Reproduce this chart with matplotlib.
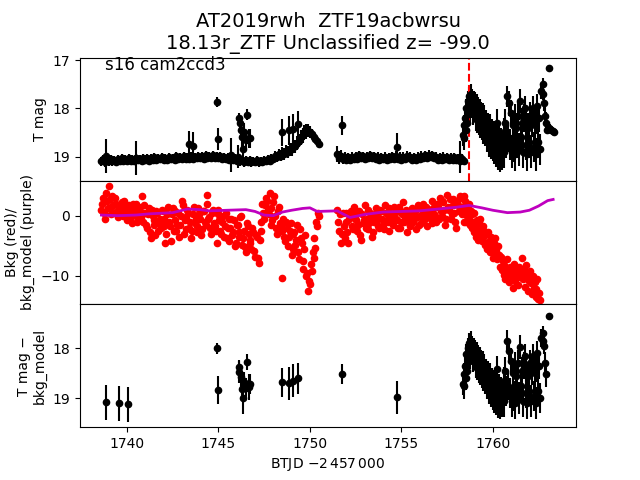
import matplotlib
matplotlib.use('Agg')
import matplotlib.pyplot as plt

# --- top panel: dense quiescent light curve (T mag) ---
t_seg1 = [1738.6, 1738.7, 1738.8, 1738.9, 1739.0,
          1739.1, 1739.2, 1739.3, 1739.4, 1739.5, 1739.6, 1739.7, 1739.8, 1739.9, 1740.0,
          1740.1, 1740.2, 1740.3, 1740.4, 1740.5, 1740.6, 1740.7, 1740.8, 1740.9, 1741.0,
          1741.1, 1741.2, 1741.3, 1741.4, 1741.5, 1741.6, 1741.7, 1741.8, 1741.9, 1742.0,
          1742.1, 1742.2, 1742.3, 1742.4, 1742.5, 1742.6, 1742.7, 1742.8, 1742.9, 1743.0,
          1743.1, 1743.2, 1743.3, 1743.4, 1743.5, 1743.6, 1743.7, 1743.8, 1743.9, 1744.0,
          1744.1, 1744.2, 1744.3, 1744.4, 1744.5, 1744.6, 1744.7, 1744.8, 1744.9, 1745.0,
          1745.1, 1745.2, 1745.3, 1745.4, 1745.5, 1745.6, 1745.7, 1745.8, 1745.9, 1746.0,
          1746.1, 1746.2, 1746.3, 1746.4, 1746.5, 1746.6, 1746.7, 1746.8, 1746.9, 1747.0,
          1747.1, 1747.2, 1747.3, 1747.4, 1747.5, 1747.6, 1747.7, 1747.8, 1747.9, 1748.0,
          1748.1, 1748.2, 1748.3, 1748.4, 1748.5, 1748.6, 1748.7, 1748.8, 1748.9, 1749.0,
          1749.1, 1749.2, 1749.3, 1749.4, 1749.5, 1749.6, 1749.7, 1749.8, 1749.9, 1750.0,
          1750.1, 1750.2, 1750.3, 1750.4, 1750.5]
mag_seg1 = [19.10, 19.05, 19.12, 19.06, 19.10,
            19.04, 19.10, 19.06, 19.11, 19.05, 19.08, 19.03, 19.09, 19.05, 19.08,
            19.03, 19.09, 19.05, 19.08, 19.02, 19.07, 19.04, 19.08, 19.03, 19.06,
            19.02, 19.08, 19.03, 19.06, 19.01, 19.07, 19.03, 19.05, 19.00, 19.06,
            19.02, 19.06, 19.00, 19.05, 19.02, 19.06, 18.99, 19.04, 19.01, 19.05,
            18.99, 19.05, 19.01, 19.04, 18.98, 19.04, 19.00, 19.03, 18.98, 19.03,
            18.99, 19.04, 18.97, 19.03, 18.99, 19.02, 18.97, 19.03, 18.98, 19.02,
            18.98, 19.04, 19.00, 19.05, 19.01, 19.06, 19.02, 19.07, 19.03, 19.08,
            19.05, 19.10, 19.06, 19.12, 19.07, 19.11, 19.06, 19.12, 19.08, 19.11,
            19.07, 19.12, 19.08, 19.11, 19.06, 19.09, 19.04, 19.08, 19.02, 19.05,
            18.98, 19.01, 18.95, 18.98, 18.92, 18.94, 18.88, 18.91, 18.85, 18.85,
            18.80, 18.79, 18.72, 18.67, 18.60, 18.56, 18.50, 18.48, 18.46, 18.49,
            18.53, 18.59, 18.63, 18.68, 18.73]
err_seg1 = [0.09, 0.08, 0.09, 0.08, 0.09,
            0.08, 0.09, 0.08, 0.09, 0.08, 0.09, 0.08, 0.09, 0.08, 0.09,
            0.08, 0.09, 0.08, 0.09, 0.08, 0.09, 0.08, 0.09, 0.08, 0.09,
            0.08, 0.09, 0.08, 0.09, 0.08, 0.09, 0.08, 0.09, 0.08, 0.09,
            0.08, 0.09, 0.08, 0.09, 0.08, 0.09, 0.08, 0.09, 0.08, 0.09,
            0.08, 0.09, 0.08, 0.09, 0.08, 0.09, 0.08, 0.09, 0.08, 0.09,
            0.08, 0.09, 0.08, 0.09, 0.08, 0.09, 0.08, 0.09, 0.08, 0.09,
            0.08, 0.09, 0.08, 0.09, 0.08, 0.09, 0.08, 0.09, 0.08, 0.09,
            0.08, 0.09, 0.08, 0.09, 0.08, 0.09, 0.08, 0.09, 0.08, 0.09,
            0.08, 0.09, 0.08, 0.09, 0.08, 0.09, 0.08, 0.09, 0.08, 0.09,
            0.09, 0.10, 0.10, 0.11, 0.11, 0.12, 0.12, 0.12, 0.13, 0.13,
            0.13, 0.14, 0.14, 0.14, 0.15, 0.15, 0.15, 0.15, 0.14, 0.13,
            0.11, 0.09, 0.07, 0.05, 0.03]

t_seg2 = [1751.5, 1751.6, 1751.7, 1751.8, 1751.9, 1752.0, 1752.1, 1752.2, 1752.3, 1752.4,
          1752.5, 1752.6, 1752.7, 1752.8, 1752.9, 1753.0, 1753.1, 1753.2, 1753.3, 1753.4,
          1753.5, 1753.6, 1753.7, 1753.8, 1753.9, 1754.0, 1754.1, 1754.2, 1754.3, 1754.4,
          1754.5, 1754.6, 1754.7, 1754.8, 1754.9, 1755.0, 1755.1, 1755.2, 1755.3, 1755.4,
          1755.5, 1755.6, 1755.7, 1755.8, 1755.9, 1756.0, 1756.1, 1756.2, 1756.3, 1756.4,
          1756.5, 1756.6, 1756.7, 1756.8, 1756.9, 1757.0, 1757.1, 1757.2, 1757.3, 1757.4,
          1757.5, 1757.6, 1757.7, 1757.8, 1757.9, 1758.0, 1758.1, 1758.2, 1758.3, 1758.4]
mag_seg2 = [18.95, 19.02, 18.98, 19.05, 19.00, 19.06, 19.01, 19.06, 19.00, 19.05,
            18.99, 19.04, 18.97, 19.03, 18.99, 19.05, 19.00, 19.03, 18.97, 19.02,
            18.99, 19.05, 19.00, 19.06, 19.01, 19.05, 19.00, 19.07, 19.01, 19.05,
            18.99, 19.04, 18.98, 19.04, 19.00, 19.06, 19.00, 19.04, 18.98, 19.03,
            19.00, 19.06, 19.01, 19.06, 19.00, 19.04, 18.98, 19.02, 18.97, 19.02,
            18.96, 19.01, 18.97, 19.03, 19.00, 19.06, 19.01, 19.06, 19.00, 19.05,
            19.01, 19.07, 19.02, 19.06, 19.01, 19.07, 19.03, 19.08, 19.04, 19.08]
err_seg2 = [0.16, 0.14, 0.12, 0.10, 0.09, 0.08, 0.09, 0.08, 0.09, 0.08,
            0.09, 0.08, 0.09, 0.08, 0.09, 0.08, 0.09, 0.08, 0.09, 0.08,
            0.09, 0.08, 0.09, 0.08, 0.09, 0.08, 0.09, 0.08, 0.09, 0.08,
            0.09, 0.08, 0.09, 0.08, 0.09, 0.08, 0.09, 0.08, 0.09, 0.08,
            0.09, 0.08, 0.09, 0.08, 0.09, 0.08, 0.09, 0.08, 0.09, 0.08,
            0.09, 0.08, 0.09, 0.08, 0.09, 0.08, 0.09, 0.08, 0.09, 0.08,
            0.09, 0.08, 0.09, 0.08, 0.09, 0.08, 0.09, 0.08, 0.09, 0.08]

t_seg3 = [1762.98, 1763.05, 1763.12, 1763.20, 1763.28, 1763.35]
mag_seg3 = [18.45, 18.40, 18.42, 18.45, 18.47, 18.49]
err_seg3 = [0.06, 0.12, 0.10, 0.07, 0.04, 0.02]

# scattered points with large errors (top panel)
t_scat = [1738.85, 1740.49, 1743.40, 1743.60, 1744.90, 1745.00, 1745.70, 1746.07,
          1746.12, 1746.18, 1746.25, 1746.30, 1746.35, 1746.42, 1746.50, 1746.58,
          1746.65, 1746.72, 1748.50, 1748.85, 1749.05, 1749.35, 1751.75, 1754.75, 1758.20]
mag_scat = [18.98, 19.02, 18.73, 18.78, 17.87, 18.63, 18.96, 19.00,
            18.21, 18.30, 18.45, 18.60, 18.85, 18.50, 18.65, 18.13,
            18.62, 18.62, 18.50, 18.45, 18.42, 18.33, 18.35, 18.80, 19.00]
err_scat = [0.35, 0.35, 0.27, 0.28, 0.10, 0.23, 0.35, 0.24,
            0.12, 0.15, 0.20, 0.20, 0.25, 0.20, 0.20, 0.12,
            0.20, 0.20, 0.28, 0.30, 0.30, 0.28, 0.20, 0.28, 0.33]

# outburst (top and bottom panels share the times)
t_burst = [1758.36, 1758.40, 1758.44, 1758.48, 1758.52, 1758.56, 1758.60,
           1758.64, 1758.68, 1758.72, 1758.76, 1758.80, 1758.84, 1758.88, 1758.92, 1758.96, 1759.00,
           1759.04, 1759.08, 1759.12, 1759.16, 1759.20, 1759.24, 1759.28, 1759.32, 1759.36, 1759.40,
           1759.44, 1759.49, 1759.54, 1759.59, 1759.64, 1759.69, 1759.74, 1759.79, 1759.84, 1759.89,
           1759.94, 1759.99, 1760.04, 1760.09, 1760.14, 1760.19, 1760.24, 1760.29, 1760.34, 1760.39,
           1760.44, 1760.49,
           1760.54, 1760.59, 1760.64, 1760.69, 1760.74, 1760.79, 1760.84, 1760.89, 1760.94, 1760.99,
           1761.04, 1761.09, 1761.14, 1761.19, 1761.24, 1761.29, 1761.34, 1761.39, 1761.44, 1761.49,
           1761.54, 1761.59, 1761.64, 1761.69, 1761.74, 1761.79, 1761.84, 1761.89, 1761.94, 1761.99,
           1762.04, 1762.09, 1762.14, 1762.19, 1762.24, 1762.29, 1762.34, 1762.39, 1762.44, 1762.49,
           1762.54, 1762.59,
           1762.66, 1762.72, 1762.76, 1762.80, 1762.86, 1762.92, 1763.06]
mag_burst = [18.55, 18.35, 18.62, 18.20, 18.45, 18.00, 18.30,
             17.85, 18.10, 17.75, 18.05, 17.70, 17.95, 17.80, 18.10, 17.85, 18.05,
             17.90, 18.20, 17.95, 18.25, 18.00, 18.30, 18.05, 18.35, 18.10, 18.40,
             18.15, 18.45, 18.20, 18.50, 18.30, 18.60, 18.35, 18.70, 18.40, 18.75,
             18.50, 18.80, 18.55, 18.85, 18.60, 18.90, 18.30, 18.95, 18.65, 19.00,
             18.70, 18.95,
             18.85, 18.50, 18.90, 18.30, 18.70, 17.75, 18.60, 17.90, 18.75, 18.10,
             18.90, 18.35, 18.80, 18.20, 18.95, 18.40, 18.70, 18.15, 18.85, 17.85,
             18.60, 18.30, 18.90, 18.20, 18.00, 18.75, 18.25, 18.95, 18.40, 18.70,
             18.15, 18.90, 18.30, 18.00, 18.80, 18.35, 18.95, 18.25, 17.95, 18.70,
             18.20, 18.85,
             17.65, 17.50, 17.70, 17.90, 18.15, 18.30, 17.17]
err_burst = [0.22, 0.22, 0.25, 0.22, 0.25, 0.20, 0.22,
             0.20, 0.24, 0.20, 0.24, 0.20, 0.24, 0.20, 0.24, 0.20, 0.24,
             0.24, 0.26, 0.24, 0.26, 0.24, 0.26, 0.24, 0.26, 0.24, 0.26,
             0.26, 0.28, 0.26, 0.28, 0.26, 0.30, 0.26, 0.30, 0.28, 0.30,
             0.28, 0.30, 0.29, 0.31, 0.29, 0.31, 0.28, 0.32, 0.30, 0.32,
             0.30, 0.32,
             0.32, 0.30, 0.34, 0.29, 0.32, 0.22, 0.31, 0.25, 0.32, 0.28,
             0.34, 0.30, 0.32, 0.29, 0.34, 0.30, 0.32, 0.28, 0.34, 0.24,
             0.32, 0.30, 0.34, 0.29, 0.25, 0.32, 0.29, 0.34, 0.30, 0.32,
             0.28, 0.34, 0.30, 0.25, 0.32, 0.30, 0.34, 0.29, 0.25, 0.32,
             0.29, 0.32,
             0.15, 0.12, 0.12, 0.15, 0.20, 0.22, 0.06]

# bottom panel: T mag - bkg_model
t_low = [1738.85, 1739.56, 1740.05, 1744.90, 1745.00, 1746.12, 1746.14, 1746.23,
         1746.28, 1746.32, 1746.40, 1746.50, 1746.58, 1746.65, 1746.72,
         1748.50, 1748.85, 1749.05, 1749.35, 1751.75, 1754.75]
mag_low = [19.08, 19.10, 19.12, 18.00, 18.84, 18.38, 18.48, 18.58,
           18.82, 19.00, 18.68, 18.80, 18.28, 18.78, 18.72,
           18.68, 18.70, 18.65, 18.60, 18.52, 18.98]
err_low = [0.35, 0.35, 0.35, 0.11, 0.28, 0.15, 0.22, 0.20,
           0.20, 0.32, 0.20, 0.20, 0.16, 0.26, 0.20,
           0.29, 0.33, 0.33, 0.31, 0.20, 0.33]
mag_burst_low = [18.72, 18.52, 18.76, 18.36, 18.60, 18.12, 18.45,
                 18.00, 18.25, 17.90, 18.20, 17.85, 18.10, 17.95, 18.25, 18.00, 18.20,
                 18.05, 18.35, 18.10, 18.40, 18.15, 18.45, 18.20, 18.50, 18.25, 18.55,
                 18.30, 18.60, 18.35, 18.65, 18.45, 18.75, 18.50, 18.85, 18.55, 18.90,
                 18.65, 18.95, 18.70, 19.00, 18.75, 19.05, 18.42, 19.10, 18.80, 19.12,
                 18.85, 19.08,
                 19.00, 18.65, 19.05, 18.45, 18.85, 17.85, 18.75, 18.05, 18.90, 18.25,
                 19.05, 18.50, 18.95, 18.35, 19.10, 18.55, 18.85, 18.30, 19.00, 17.98,
                 18.75, 18.45, 19.05, 18.35, 18.15, 18.90, 18.40, 19.10, 18.55, 18.85,
                 18.30, 19.05, 18.45, 18.15, 18.95, 18.50, 19.10, 18.40, 18.10, 18.85,
                 18.35, 19.00,
                 17.80, 17.70, 17.85, 17.96, 18.30, 18.52, 17.36]
err_burst_low = [0.22, 0.22, 0.25, 0.20, 0.24, 0.20, 0.22,
                 0.20, 0.22, 0.20, 0.22, 0.20, 0.22, 0.20, 0.22, 0.20, 0.22,
                 0.22, 0.24, 0.22, 0.24, 0.22, 0.24, 0.22, 0.24, 0.22, 0.24,
                 0.24, 0.26, 0.24, 0.26, 0.24, 0.27, 0.24, 0.27, 0.26, 0.28,
                 0.26, 0.28, 0.27, 0.29, 0.27, 0.29, 0.26, 0.30, 0.28, 0.30,
                 0.28, 0.30,
                 0.30, 0.28, 0.32, 0.27, 0.30, 0.22, 0.29, 0.24, 0.30, 0.26,
                 0.32, 0.28, 0.30, 0.27, 0.32, 0.28, 0.30, 0.26, 0.32, 0.24,
                 0.30, 0.28, 0.32, 0.27, 0.24, 0.30, 0.27, 0.32, 0.28, 0.30,
                 0.26, 0.32, 0.28, 0.24, 0.30, 0.28, 0.32, 0.27, 0.24, 0.30,
                 0.27, 0.30,
                 0.18, 0.14, 0.14, 0.16, 0.22, 0.25, 0.07]

# --- middle panel: background (red) and background model (purple) ---
bkg_seg1 = [1.0, 3.0, -0.5, 2.5, 5.0,
            1.5, 3.2, 0.5, 2.0, -0.3, 1.2, 2.2, 0.0, 1.5, -0.8,
            1.8, 0.3, -1.2, 1.0, 2.0, -0.5, 0.8, 3.2, -1.0, 0.5,
            -2.0, 1.2, -3.8, 0.0, -1.5, 0.8, -2.5, -0.5, 1.0, -1.8,
            -4.5, 0.2, -1.0, -4.2, 1.2, -0.8, -2.5, 0.5, -1.5, 2.5,
            -3.0, -0.3, 1.0, -2.0, -3.8, 0.3, -1.2, -2.8, 1.2, -0.5,
            -2.2, 0.8, -1.5, 3.5, -0.2, -3.0, 1.0, -1.8, -4.5, 0.2,
            -2.5, -1.0, -3.5, 0.5, -2.0, -4.2, -0.5, -2.8, -5.0, -1.5,
            -3.5, -0.2, -4.8, -2.5, -6.0, -1.8, -4.0, -5.5, -2.8, -6.8,
            -3.5, -7.8, -1.0, 2.0, -0.5, 3.0, 1.0, 3.7, -1.5, 2.2,
            0.0, -3.0, 1.5, -1.8, -10.3, -3.5, -1.0, -5.0, -2.5, -6.5,
            -3.0, -4.8, -1.5, -7.2, -3.8, -8.8, -5.5, -10.0, -12.5, -11.3,
            -9.2, -7.0, -5.3, -1.7, 0.0]
bkg_seg2 = [1.0, -2.5, -4.5, 0.5, -3.8, -1.0, -4.5, 0.2, -1.8, 1.5,
            -0.8, -2.5, 0.8, -4.0, -1.2, 1.8, -0.5, -2.2, 0.5, -3.5,
            -1.0, 1.2, -0.3, -2.0, 0.8, -1.5, 1.8, -0.8, -2.5, 0.3,
            -1.2, 1.5, -0.5, -2.0, 0.8, -1.0, 2.2, -0.3, -2.8, 0.5,
            -1.5, 1.2, -0.5, -2.2, 1.8, 0.0, -1.2, 2.0, 0.5, -1.8,
            1.0, -0.5, 2.5, 0.2, -1.0, 1.5, 3.0, 0.0, 2.2, -1.5,
            3.5, 1.0, -0.5, 2.8, 0.5, -2.0, 1.8, 3.2, 0.2, -1.0]
bkg_burst = [1.5, 3.2, 0.5, 2.5, -1.0, 1.8, 0.0,
             1.2, -0.5, 2.0, -1.5, 0.8, -2.0, 0.3, -1.0, -2.8, 0.5,
             -1.8, -3.5, -0.8, -2.2, -4.0, -1.2, -3.0, -0.5, -2.5, -4.2,
             -1.8, -3.5, -2.5, -4.8, -3.0, -5.5, -2.8, -4.2, -6.0, -3.5,
             -5.0, -7.0, -4.5, -6.2, -3.8, -5.8, -7.2, -5.0, -6.5, -8.5,
             -6.8, -9.0,
             -7.5, -9.8, -8.2, -10.5, -8.8, -7.2, -9.5, -11.0, -8.5, -10.0,
             -9.0, -12.0, -8.0, -9.8, -10.8, -8.8, -9.2, -11.5, -8.5, -10.2,
             -9.5, -7.0, -10.5, -9.0, -11.8, -8.2, -10.0, -9.5, -12.5, -10.8,
             -9.2, -11.2, -13.0, -10.0, -12.0, -11.0, -13.5, -12.2, -10.5, -13.8,
             -12.8, -14.0]

# in-between cadences (background only)
t_seg1b = [1738.65, 1738.75, 1738.85, 1738.95, 1739.05, 1739.15, 1739.25, 1739.35, 1739.45, 1739.55,
           1739.65, 1739.75, 1739.85, 1739.95, 1740.05, 1740.15, 1740.25, 1740.35, 1740.45, 1740.55,
           1740.65, 1740.75, 1740.85, 1740.95, 1741.05, 1741.15, 1741.25, 1741.35, 1741.45, 1741.55,
           1741.65, 1741.75, 1741.85, 1741.95, 1742.05, 1742.15, 1742.25, 1742.35, 1742.45, 1742.55,
           1742.65, 1742.75, 1742.85, 1742.95, 1743.05, 1743.15, 1743.25, 1743.35, 1743.45, 1743.55,
           1743.65, 1743.75, 1743.85, 1743.95, 1744.05, 1744.15, 1744.25, 1744.35, 1744.45, 1744.55,
           1744.65, 1744.75, 1744.85, 1744.95, 1745.05, 1745.15, 1745.25, 1745.35, 1745.45, 1745.55,
           1745.65, 1745.75, 1745.85, 1745.95, 1746.05, 1746.15, 1746.25, 1746.35, 1746.45, 1746.55,
           1746.65, 1746.75, 1746.85, 1746.95, 1747.05, 1747.15, 1747.25, 1747.35, 1747.45, 1747.55,
           1747.65, 1747.75, 1747.85, 1747.95, 1748.05, 1748.15, 1748.25, 1748.35, 1748.45, 1748.55,
           1748.65, 1748.75, 1748.85, 1748.95, 1749.05, 1749.15, 1749.25, 1749.35, 1749.45, 1749.55,
           1749.65, 1749.75, 1749.85, 1749.95, 1750.05, 1750.15, 1750.25, 1750.35, 1750.45]
bkg_seg1b = [2.0, 0.5, 3.8, 1.2, 2.8, 0.2, 1.8, 3.0, 0.8, 1.5,
             0.3, 1.5, 2.5, 0.8, -0.5, 1.2, 0.0, 2.0, 0.5, -1.0,
             1.5, -0.3, 0.5, 1.8, -1.5, 0.2, -2.8, 1.0, -0.8, -3.2,
             0.5, -1.2, -2.0, 0.8, -0.5, -3.0, 1.5, -1.8, 0.2, -2.5,
             0.8, -1.5, -3.5, 0.0, 1.8, -0.8, -2.2, 0.5, -1.0, -2.5,
             1.5, -0.5, -1.8, 0.2, -3.2, 0.8, -1.0, 2.0, -0.5, -2.0,
             0.5, -1.2, -2.5, 1.0, -0.8, -3.0, 0.0, -1.8, -3.8, -0.5,
             -2.0, -3.2, -0.8, -4.5, -1.5, -2.8, 0.0, -3.8, -5.2, -1.2,
             -3.0, -4.5, -2.0, -5.8, -3.2, -7.0, -4.0, -2.5, 0.5, 1.8,
             2.5, 0.2, 1.2, -0.8, 3.2, -2.0, 0.8, -1.2, -2.5, -0.5,
             -4.2, -2.0, -3.5, -1.2, -5.5, -2.8, -4.0, -6.0, -2.2, -4.5,
             -7.5, -3.2, -9.5, -10.8, -8.0, -6.0, -3.8, -1.0, 0.5]
t_seg2b = [1751.55, 1751.65, 1751.75, 1751.85, 1751.95, 1752.05, 1752.15, 1752.25, 1752.35, 1752.45,
           1752.55, 1752.65, 1752.75, 1752.85, 1752.95, 1753.05, 1753.15, 1753.25, 1753.35, 1753.45,
           1753.55, 1753.65, 1753.75, 1753.85, 1753.95, 1754.05, 1754.15, 1754.25, 1754.35, 1754.45,
           1754.55, 1754.65, 1754.75, 1754.85, 1754.95, 1755.05, 1755.15, 1755.25, 1755.35, 1755.45,
           1755.55, 1755.65, 1755.75, 1755.85, 1755.95, 1756.05, 1756.15, 1756.25, 1756.35, 1756.45,
           1756.55, 1756.65, 1756.75, 1756.85, 1756.95, 1757.05, 1757.15, 1757.25, 1757.35, 1757.45,
           1757.55, 1757.65, 1757.75, 1757.85, 1757.95, 1758.05, 1758.15, 1758.25, 1758.35]
bkg_seg2b = [-1.0, 0.2, -3.0, -1.8, 0.5, -2.8, -0.5, 0.8, -2.2, -0.3,
             0.5, -1.5, -3.2, 0.2, -0.8, -2.0, 1.0, -1.2, -0.3, -2.8,
             0.3, -0.8, -1.8, 1.0, -0.5, -2.2, 0.5, -1.0, 1.2, -0.2,
             -1.5, 0.5, -0.8, 1.5, -2.0, 0.2, -1.0, 1.0, -0.5, -1.8,
             0.2, -1.0, 0.8, -0.3, -1.5, 1.2, 0.3, -0.8, 1.5, -0.2,
             0.8, -1.2, 1.2, 0.0, 2.0, -0.5, 0.8, 2.5, 1.0, -0.5,
             1.5, 2.8, 0.2, 1.8, -1.0, 2.5, 0.8, 3.0, 1.2]

t_model = [1738.6, 1739.5, 1740.5, 1741.2, 1742.5, 1743.3, 1744.0, 1744.5, 1745.5,
           1746.5, 1747.0, 1747.5, 1748.0, 1748.5, 1749.0, 1749.6, 1750.0, 1750.4,
           1751.5, 1751.8, 1752.2, 1753.0, 1754.0, 1755.0, 1756.0, 1757.0, 1758.0,
           1758.7, 1759.4, 1760.0, 1760.8, 1761.5, 1762.0, 1762.5, 1763.0, 1763.3]
bkg_model = [0.1, 0.0, 0.1, 0.3, 0.5, 1.1, 1.0, 0.8, 0.9,
             1.0, 0.7, 0.1, 0.0, 0.6, 0.9, 1.2, 1.3, 0.7,
             0.8, 0.3, -0.3, 0.2, 0.6, 0.7, 0.8, 1.1, 1.4,
             1.7, 1.3, 0.9, 0.5, 0.6, 0.9, 1.6, 2.5, 2.7]

t_peak = 1758.69

fig, axes = plt.subplots(3, 1, sharex=True, figsize=(6.4, 4.8))
plt.subplots_adjust(hspace=0)
ax1, ax2, ax3 = axes

ebkw = dict(fmt='.', color='k', ecolor='k', ms=9)
ax1.errorbar(t_seg1, mag_seg1, yerr=err_seg1, **ebkw)
ax1.errorbar(t_seg2, mag_seg2, yerr=err_seg2, **ebkw)
ax1.errorbar(t_seg3, mag_seg3, yerr=err_seg3, **ebkw)
ax1.errorbar(t_scat, mag_scat, yerr=err_scat, **ebkw)
ax1.errorbar(t_burst, mag_burst, yerr=err_burst, **ebkw)
ax1.axvline(t_peak, color='r', ls='--')
ax1.set_ylim(19.5, 16.95)
ax1.set_yticks([17, 18, 19])
ax1.set_ylabel('T mag')
ax1.text(0.05, 0.9, 's16 cam2ccd3', transform=ax1.transAxes, fontsize=12)
ax1.set_title('AT2019rwh  ZTF19acbwrsu\n18.13r_ZTF Unclassified z= -99.0', fontsize=14)

bkg_t = t_seg1 + t_seg1b + t_seg2 + t_seg2b + t_burst[:len(bkg_burst)]
bkg = bkg_seg1 + bkg_seg1b + bkg_seg2 + bkg_seg2b + bkg_burst
ax2.plot(bkg_t, bkg, 'o', color='r', ms=4.5)
ax2.plot(t_model, bkg_model, '-', color='m', lw=2)
ax2.set_ylim(-14.7, 5.8)
ax2.set_yticks([0, -10])
ax2.set_ylabel('Bkg (red)/\nbkg_model (purple)')

ax3.errorbar(t_low, mag_low, yerr=err_low, **ebkw)
ax3.errorbar(t_burst, mag_burst_low, yerr=err_burst_low, **ebkw)
ax3.set_ylim(19.58, 17.12)
ax3.set_yticks([18, 19])
ax3.set_ylabel('T mag \u2212\nbkg_model')
ax3.set_xlim(1737.43, 1764.55)
ax3.set_xticks([1740, 1745, 1750, 1755, 1760])
ax3.set_xlabel('BTJD $-2\\,457\\,000$')

plt.savefig('out.png', dpi=100)
